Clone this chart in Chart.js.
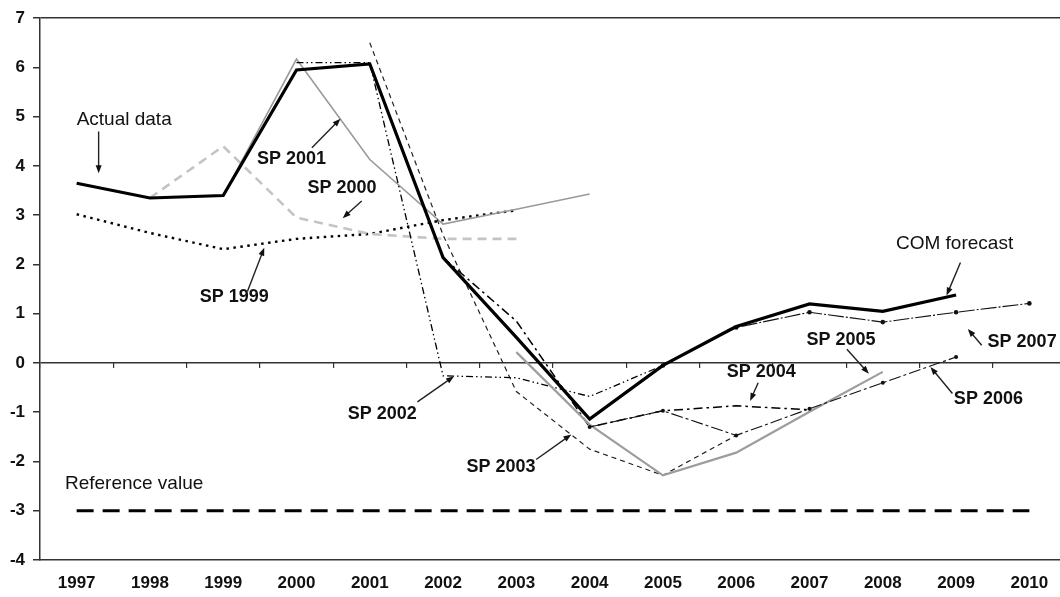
<!DOCTYPE html>
<html>
<head>
<meta charset="utf-8">
<script src="https://cdn.jsdelivr.net/npm/chart.js@4.4.0/dist/chart.umd.min.js"></script>
<style>
  html, body { margin: 0; padding: 0; background: #fff; overflow: hidden; }
  #wrap { position: relative; width: 1070px; height: 597px; }
</style>
</head>
<body>
<div id="wrap"><canvas id="deficitChart"></canvas></div>
<script>
// --- Datos ---
const years = ['1997', '1998', '1999', '2000', '2001', '2002', '2003', '2004', '2005', '2006', '2007', '2008', '2009', '2010'];
const yTicks = [7, 6, 5, 4, 3, 2, 1, 0, -1, -2, -3, -4];

const actualData  = [3.65, 3.35, 3.4, 5.95, 6.07, 2.14, 0.52, -1.14, -0.05, 0.74, null, null, null, null];
const comForecast = [null, null, null, null, null, null, null, null, null, 0.74, 1.2, 1.05, 1.38, null];
const sp1999 = [3.02, 2.64, 2.31, 2.52, 2.62, 2.9, 3.1, null, null, null, null, null, null, null];
const sp2000 = [null, 3.35, 4.4, 2.95, 2.62, 2.52, 2.52, null, null, null, null, null, null, null];
const sp2001 = [null, null, 3.4, 6.17, 4.13, 2.82, 3.12, 3.43, null, null, null, null, null, null];
const sp2002 = [null, null, null, 6.1, 6.1, -0.26, -0.3, -0.68, -0.05, null, null, null, null, null];
const sp2003 = [null, null, null, null, 6.5, 2.6, -0.58, -1.75, -2.28, -1.47, null, null, null, null];
const sp2004 = [null, null, null, null, null, 2.14, 0.85, -1.3, -0.97, -0.87, -0.95, null, null, null];
const sp2005 = [null, null, null, null, null, null, 0.22, -1.25, -2.28, -1.82, -0.99, -0.18, null, null];
const sp2006 = [null, null, null, null, null, null, null, -1.3, -0.97, -1.47, -0.93, -0.4, 0.12, null];
const sp2007 = [null, null, null, null, null, null, null, null, -0.05, 0.72, 1.03, 0.83, 1.03, 1.21];
const referenceValue = [-3, -3, -3, -3, -3, -3, -3, -3, -3, -3, -3, -3, -3, -3];

// Etiquetas del gráfico (x = índice de año, y = valor)
const notes = [
  { text: 'Actual data', x: 0.0, y: 4.94, bold: false, arrow: [0.30, 4.70, 0.30, 3.85] },
  { text: 'SP 2001', x: 2.46, y: 4.15, bold: true, arrow: [3.21, 4.37, 3.60, 4.96] },
  { text: 'SP 2000', x: 3.15, y: 3.55, bold: true, arrow: [3.89, 3.29, 3.63, 2.94] },
  { text: 'SP 1999', x: 1.68, y: 1.33, bold: true, arrow: [2.33, 1.45, 2.56, 2.34] },
  { text: 'SP 2002', x: 3.70, y: -1.03, bold: true, arrow: [4.65, -0.79, 5.15, -0.27] },
  { text: 'SP 2003', x: 5.32, y: -2.12, bold: true, arrow: [6.27, -1.96, 6.75, -1.45] },
  { text: 'SP 2004', x: 8.87, y: -0.18, bold: true, arrow: [9.30, -0.40, 9.19, -0.77] },
  { text: 'SP 2005', x: 9.96, y: 0.46, bold: true, arrow: [10.51, 0.28, 10.81, -0.22] },
  { text: 'SP 2006', x: 11.97, y: -0.73, bold: true, arrow: [11.95, -0.62, 11.65, -0.08] },
  { text: 'SP 2007', x: 12.43, y: 0.42, bold: true, arrow: [12.35, 0.36, 12.16, 0.69] },
  { text: 'COM forecast', x: 11.18, y: 2.42, bold: false, arrow: [12.06, 2.04, 11.87, 1.37] },
  { text: 'Reference value', x: -0.16, y: -2.46, bold: false, arrow: null }
];

// --- Plugin de anotaciones ---
const notesPlugin = {
  id: 'notes',
  afterDatasetsDraw(chart) {
    const { ctx, scales } = chart;
    const px = v => scales.x.getPixelForValue(v);
    const py = v => scales.y.getPixelForValue(v);
    ctx.save();
    notes.forEach(n => {
      ctx.fillStyle = '#111';
      ctx.font = (n.bold ? 'bold 18px' : '19px') + " 'Liberation Sans', Arial, sans-serif";
      ctx.textAlign = 'left';
      ctx.textBaseline = 'middle';
      ctx.fillText(n.text, px(n.x), py(n.y));
      if (!n.arrow) return;
      const x1 = px(n.arrow[0]), y1 = py(n.arrow[1]);
      const x2 = px(n.arrow[2]), y2 = py(n.arrow[3]);
      const ang = Math.atan2(y2 - y1, x2 - x1);
      ctx.strokeStyle = '#222';
      ctx.lineWidth = 1.4;
      ctx.beginPath();
      ctx.moveTo(x1, y1);
      ctx.lineTo(x2 - 5 * Math.cos(ang), y2 - 5 * Math.sin(ang));
      ctx.stroke();
      ctx.beginPath();
      ctx.moveTo(x2, y2);
      ctx.lineTo(x2 - 8 * Math.cos(ang) + 3 * Math.sin(ang), y2 - 8 * Math.sin(ang) - 3 * Math.cos(ang));
      ctx.lineTo(x2 - 8 * Math.cos(ang) - 3 * Math.sin(ang), y2 - 8 * Math.sin(ang) + 3 * Math.cos(ang));
      ctx.closePath();
      ctx.fill();
    });
    ctx.restore();
  }
};

function serie(label, data, color, width, dash, points) {
  return {
    label: label,
    data: data,
    borderColor: color,
    backgroundColor: color,
    borderWidth: width,
    borderDash: dash || [],
    pointRadius: points || 0,
    pointBorderWidth: 0,
    tension: 0,
    fill: false,
    spanGaps: false
  };
}

const ctx = document.getElementById('deficitChart').getContext('2d');
new Chart(ctx, {
  type: 'line',
  data: {
    labels: years,
    datasets: [
      serie('Actual data', actualData, '#000', 3.2),
      serie('COM forecast', comForecast, '#000', 3.2),
      serie('SP 2007', sp2007, '#111', 1.1, [16, 2, 2, 2], 2.3),
      serie('SP 2006', sp2006, '#111', 1.1, [12, 3, 3, 3], 2),
      serie('SP 2005', sp2005, '#9d9d9d', 2.2),
      serie('SP 2004', sp2004, '#000', 1.5, [9, 4, 2.5, 4]),
      serie('SP 2003', sp2003, '#222', 1.2, [5, 4]),
      serie('SP 2002', sp2002, '#000', 1.3, [7, 3, 1.5, 3, 1.5, 3]),
      serie('SP 2001', sp2001, '#9a9a9a', 1.6),
      serie('SP 2000', sp2000, '#c4c4c4', 2.6, [9, 6]),
      serie('SP 1999', sp1999, '#000', 2.4, [2.5, 4.5]),
      serie('Reference value', referenceValue, '#000', 3.2, [17, 9])
    ]
  },
  options: {
    responsive: true,
    maintainAspectRatio: false,
    animation: false,
    layout: { padding: { top: 15, right: 2, bottom: 0, left: 0 } },
    plugins: { legend: { display: false }, tooltip: { enabled: false } },
    scales: {
      x: {
        type: 'category',
        offset: true,
        grid: { display: false, drawTicks: false },
        border: { display: true, color: '#333', width: 1.5 },
        ticks: {
          padding: 13,
          color: '#111',
          font: { family: "'Liberation Sans', Arial, sans-serif", size: 17, weight: 'bold' }
        },
        afterFit: scale => { scale.height = 37; }
      },
      x0: {
        type: 'category',
        position: { y: 0 },
        offset: true,
        grid: { offset: true, drawOnChartArea: false, drawTicks: true, tickLength: 5, color: '#333', lineWidth: 1.2 },
        border: { display: false },
        ticks: { display: false }
      },
      y: {
        min: -4,
        max: 7,
        afterBuildTicks: scale => { scale.ticks = yTicks.map(v => ({ value: v })); },
        grid: {
          color: c => (c.tick && (c.tick.value === 0 || c.tick.value === 7)) ? '#333' : 'rgba(0,0,0,0)',
          lineWidth: 1.5,
          tickColor: '#333',
          tickLength: 7
        },
        border: { display: true, color: '#333', width: 1.5 },
        ticks: {
          padding: 8,
          color: '#111',
          font: { family: "'Liberation Sans', Arial, sans-serif", size: 17, weight: 'bold' }
        },
        afterFit: scale => { scale.width = 40; }
      }
    }
  },
  plugins: [notesPlugin]
});
</script>
</body>
</html>
